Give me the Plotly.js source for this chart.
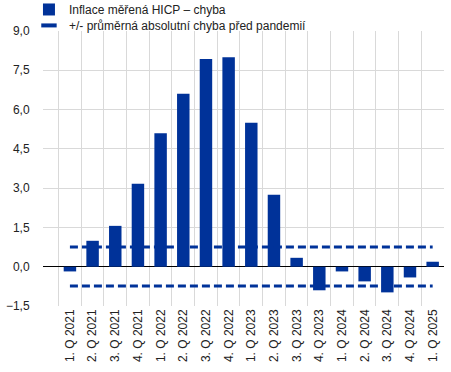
<!DOCTYPE html>
<html>
<head>
<meta charset="utf-8">
<script src="https://cdn.plot.ly/plotly-3.0.1.min.js"></script>
<style>html,body{margin:0;padding:0;background:#fff;}#chart{width:451px;height:372px;}</style>
</head>
<body>
<div id="chart"></div>
<script>
const categories = ["1. Q 2021","2. Q 2021","3. Q 2021","4. Q 2021","1. Q 2022","2. Q 2022","3. Q 2022","4. Q 2022","1. Q 2023","2. Q 2023","3. Q 2023","4. Q 2023","1. Q 2024","2. Q 2024","3. Q 2024","4. Q 2024","1. Q 2025"];
const hicpError = [-0.18, 0.99, 1.56, 3.17, 5.1, 6.6, 7.93, 8.0, 5.5, 2.75, 0.34, -0.9, -0.18, -0.56, -0.98, -0.41, 0.19];
const upperBand = [0.75,0.75,0.75,0.75,0.75,0.75,0.75,0.75,0.75,0.75,0.75,0.75,0.75,0.75,0.75,0.75,0.75];
const lowerBand = [-0.74,-0.74,-0.74,-0.74,-0.74,-0.74,-0.74,-0.74,-0.74,-0.74,-0.74,-0.74,-0.74,-0.74,-0.74,-0.74,-0.74];
const seriesNames = ["Inflace měřená HICP – chyba", "+/- průměrná absolutní chyba před pandemií"];
const yTicks = [-1.5, 0, 1.5, 3, 4.5, 6, 7.5, 9];

const blue = "#003299";
const traces = [
  {type:"bar", x:categories, y:hicpError, name:seriesNames[0], marker:{color:blue}, width:0.55, legend:"legend"},
  {type:"scatter", mode:"lines", x:categories, y:upperBand, showlegend:false, line:{color:blue, width:3, dash:"8px,4px"}, hoverinfo:"skip"},
  {type:"scatter", mode:"lines", x:categories, y:lowerBand, showlegend:false, line:{color:blue, width:3, dash:"8px,4px"}, hoverinfo:"skip"},
  {type:"scatter", mode:"markers", x:[categories[0]], y:[null], name:seriesNames[1], legend:"legend2", marker:{symbol:"line-ew", size:11, color:blue, line:{color:blue, width:4}}}
];
const legendBase = {x:-0.035, xanchor:"left", yanchor:"top", yref:"paper", orientation:"v", bgcolor:"rgba(0,0,0,0)", font:{size:12, color:"#222"}};
const layout = {
  width:451, height:372,
  margin:{l:43, r:7, t:31, b:66, autoexpand:false},
  paper_bgcolor:"#fff", plot_bgcolor:"#fff",
  separators:",.",
  font:{family:"Arial, 'Liberation Sans', sans-serif", size:12, color:"#222"},
  showlegend:true,
  legend:Object.assign({}, legendBase, {y:1.131}),
  legend2:Object.assign({}, legendBase, {y:1.073}),
  xaxis:{type:"category", tickson:"boundaries", showgrid:true, gridcolor:"#d9d9d9", gridwidth:1, tickangle:-90, ticks:"outside", ticklen:6, tickcolor:"rgba(0,0,0,0)", showline:false, zeroline:false},
  yaxis:{range:[-1.5, 9], tickvals:yTicks, tickformat:".1f", showgrid:true, gridcolor:"#d9d9d9", gridwidth:1, zeroline:true, zerolinecolor:"#000", zerolinewidth:1.5, ticks:"outside", ticklen:10, tickcolor:"rgba(0,0,0,0)", showline:false},
  bargap:0.45
};
Plotly.newPlot("chart", traces, layout, {displayModeBar:false, staticPlot:true});
</script>
</body>
</html>
